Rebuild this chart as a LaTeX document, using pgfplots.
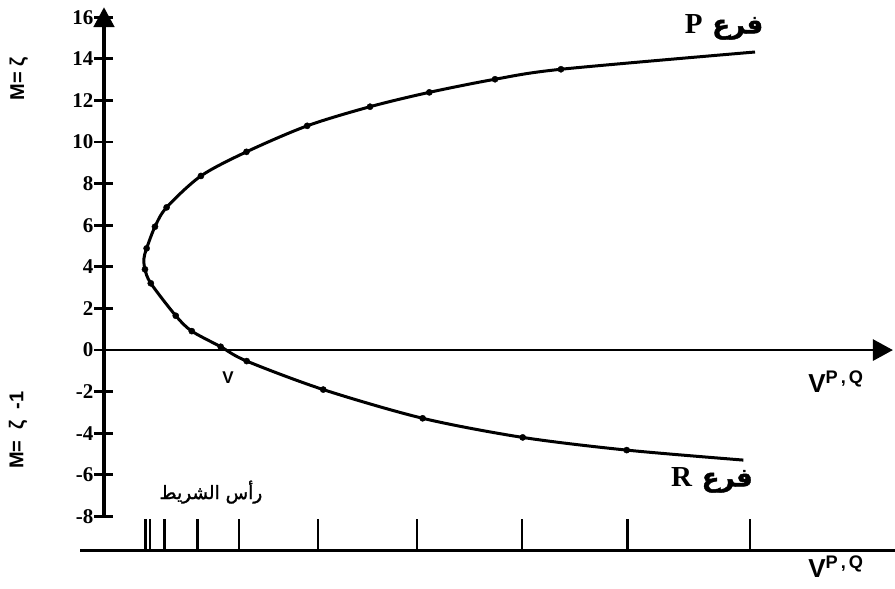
\documentclass[border=0pt]{standalone}
\usepackage{fontspec}
\setmainfont{Liberation Serif}
\setsansfont{Liberation Sans}
\newfontfamily\arabicfont[Script=Arabic, FakeBold=1.5]{DejaVu Sans}
\TeXXeTstate=1
\usepackage{pgfplots}
\usepackage{pgfplotstable}
\pgfplotsset{compat=1.18}
\usetikzlibrary{arrows.meta}

% Fortrat parabola: R branch (bottom) through the band head to the P branch (top)
\pgfplotstableread{
x y
30.74 -5.29
25.13 -4.81
20.13 -4.20
15.32 -3.28
10.54 -1.90
6.86 -0.53
5.61 0.16
4.22 0.91
3.45 1.65
2.25 3.21
1.97 3.88
1.92 4.40
2.05 4.89
2.45 5.93
3.01 6.86
4.66 8.37
6.85 9.53
9.77 10.78
12.79 11.70
15.64 12.39
18.80 13.02
21.97 13.50
31.30 14.33
}\curvetab

% measured lines
\pgfplotstableread{
x y
25.13 -4.81
20.13 -4.20
15.32 -3.28
10.54 -1.90
6.86 -0.53
5.61 0.16
4.22 0.91
3.45 1.65
2.25 3.21
1.97 3.88
2.05 4.89
2.45 5.93
3.01 6.86
4.66 8.37
6.85 9.53
9.77 10.78
12.79 11.70
15.64 12.39
18.80 13.02
21.97 13.50
}\pointtab

% spectrum: line positions along the wavenumber scale
\pgfplotstableread{
x y
2.00 -9.62
2.21 -9.62
2.90 -9.62
4.49 -9.62
6.49 -9.62
10.30 -9.62
15.06 -9.62
20.11 -9.62
25.16 -9.62
31.06 -9.62
}\spectrumtab

\begin{document}
\begin{tikzpicture}
\begin{axis}[
  x=20.8bp, y=20.8bp,
  xmin=0, xmax=37.93, ymin=-8, ymax=16.49,
  axis lines=middle,
  clip=false,
  xtick=\empty,
  ytick={-8,-6,...,16},
  yticklabels={-8,-6,-4,-2,0,2,4,6,8,10,12,14,16},
  hide obscured y ticks=false,
  hide obscured x ticks=false,
  tick align=center,
  major tick length=19bp,
  tick style={black, line width=2.8bp},
  yticklabel style={font=\fontsize{21bp}{23bp}\selectfont\bfseries, anchor=east, inner sep=0pt, xshift=-1bp},
  x axis line style={line width=2.8bp, -{Triangle[width=21bp,length=20bp]}},
  y axis line style={line width=4.6bp, -{Triangle[width=20bp,length=20bp]}},
]
  \addplot[black, line width=3bp, smooth, mark=none] table {\curvetab};
  \addplot[black, only marks, mark=*, mark size=3.1bp] table {\pointtab};

  % spectrum baseline and lines
  \addplot[black, line width=2.8bp, mark=none] coordinates {(-1.15,-9.62) (38.03,-9.62)};
  \addplot[black, line width=2.4bp, mark=none, quiver={u=0, v=1.49}] table {\spectrumtab};

  % labels
  \node[font=\sffamily\bfseries\fontsize{17bp}{19bp}\selectfont] at (axis cs:5.96,-1.35) {V};
  \node[font=\sffamily\bfseries\fontsize{26bp}{28bp}\selectfont, inner sep=0pt] at (axis cs:35.19,-1.54) {V\textsuperscript{P\,,\,Q}};
  \node[font=\sffamily\bfseries\fontsize{26bp}{28bp}\selectfont, inner sep=0pt] at (axis cs:35.19,-10.43) {V\textsuperscript{P\,,\,Q}};
  \node[inner sep=0pt] at (axis cs:29.81,15.53) {\fontsize{29bp}{31bp}\selectfont\bfseries P\,\,{\arabicfont\fontsize{26bp}{30bp}\selectfont\beginR فرع\endR}};
  \node[inner sep=0pt] at (axis cs:29.23,-6.25) {\fontsize{29bp}{31bp}\selectfont\bfseries R\,\,{\arabicfont\fontsize{26bp}{30bp}\selectfont\beginR فرع\endR}};
  \node[inner sep=0pt] at (axis cs:5.14,-6.83) {\arabicfont\fontsize{18.5bp}{21bp}\selectfont\beginR رأس الشريط\endR};
  \node[rotate=90, inner sep=0pt, font=\sffamily\bfseries\fontsize{20bp}{22bp}\selectfont] at (axis cs:-4.09,13.03) {M= ζ};
  \node[rotate=90, inner sep=0pt, font=\sffamily\bfseries\fontsize{20bp}{22bp}\selectfont] at (axis cs:-4.13,-3.85) {M=\ \ ζ\ \ -1};

  \coordinate (bbA) at (axis cs:-5,-11.44);
  \coordinate (bbB) at (axis cs:38.03,16.83);
\end{axis}
\pgfresetboundingbox
\useasboundingbox (bbA) rectangle (bbB);
\end{tikzpicture}
\end{document}
